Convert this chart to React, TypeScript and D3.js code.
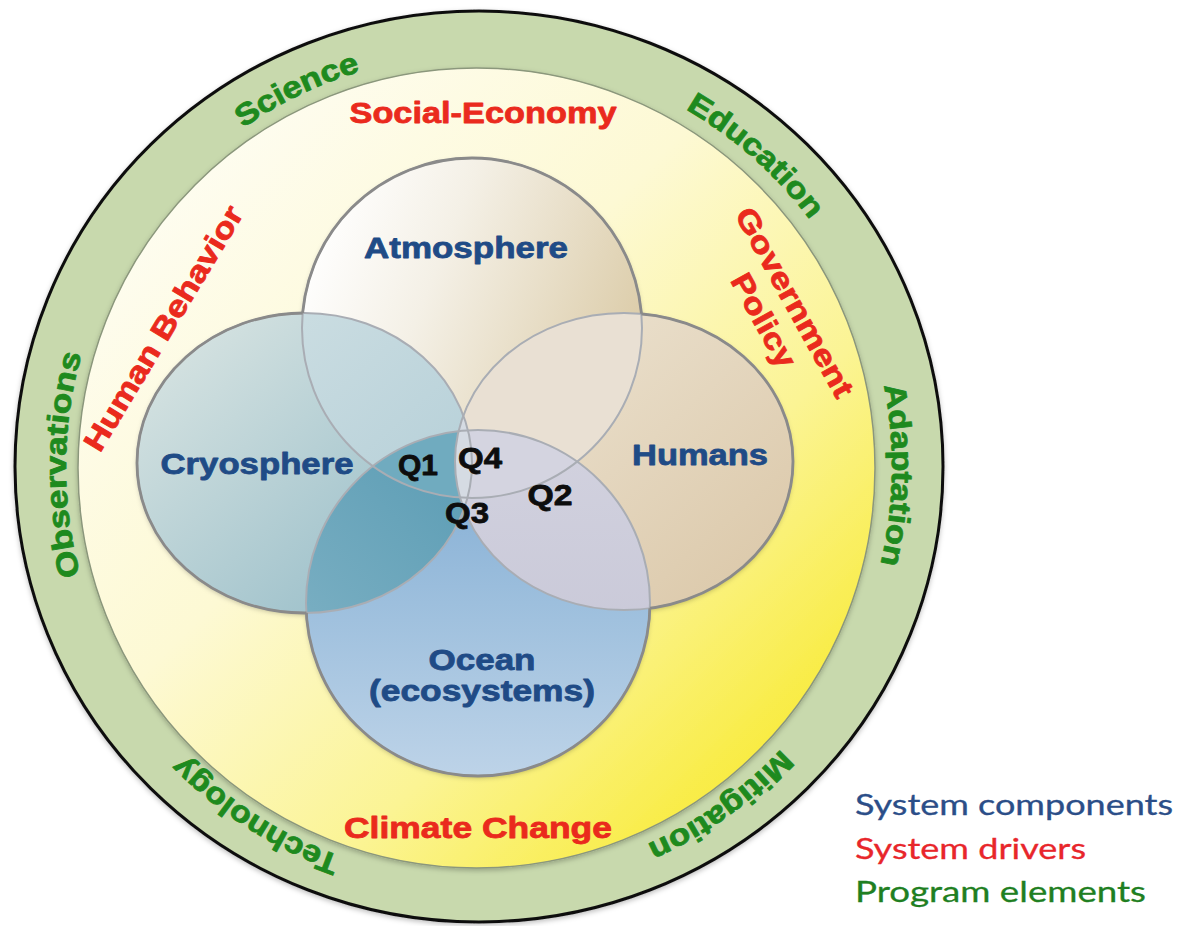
import React, { useRef, useEffect } from "react";
import * as d3 from "d3";

// names shown in the diagram
const components = ["Atmosphere", "Cryosphere", "Humans", "Ocean"];
const oceanSubtitle = "(ecosystems)";
const drivers = ["Social-Economy", "Government", "Policy", "Human Behavior", "Climate Change"];
const programElements = ["Science", "Education", "Adaptation", "Mitigation", "Technology", "Observations"];
const questions = ["Q1", "Q2", "Q3", "Q4"];
const legendLabels = ["System components", "System drivers", "Program elements"];
const legendGroups = ["components", "drivers", "program"];

// layout
const W = 1188;
const H = 926;
const outer = { cx: 479, cy: 466.5, rx: 464, ry: 455.5 };
const inner = { cx: 476.5, cy: 468, rx: 398.5, ry: 400 };
const ringText = { cx: 479, cy: 467, r: 413 };

const circleGeo = {
  Atmosphere: { cx: 472, cy: 328, rx: 170, ry: 170 },
  Cryosphere: { cx: 304.5, cy: 463, rx: 167.5, ry: 150 },
  Humans: { cx: 624, cy: 461.5, rx: 169, ry: 148.5 },
  Ocean: { cx: 478, cy: 603, rx: 172, ry: 173 },
};

const componentPos = {
  Atmosphere: { x: 466, y: 258, w: 204 },
  Cryosphere: { x: 257, y: 474, w: 193 },
  Humans: { x: 700, y: 465, w: 136 },
  Ocean: { x: 482, y: 670, w: 107 },
};
const subtitlePos = { x: 482, y: 701, w: 226 };

const questionPos = {
  Q1: { x: 418, y: 475, w: 40 },
  Q2: { x: 550, y: 505, w: 45 },
  Q3: { x: 467, y: 523, w: 44 },
  Q4: { x: 480, y: 468, w: 44 },
};

// centre of the cap box, rotation, length
const driverPos = {
  "Social-Economy": { x: 483, y: 112.5, a: 0, w: 267 },
  Government: { x: 795, y: 302, a: 61, w: 212 },
  Policy: { x: 764, y: 320, a: 61, w: 103 },
  "Human Behavior": { x: 163, y: 328, a: -59, w: 280 },
  "Climate Change": { x: 478, y: 827, a: 0, w: 268 },
};

// angle on the ring (deg, clockwise from 3 o'clock), length
const ringPos = {
  Science: { a: -115.8, w: 131 },
  Education: { a: -48.4, w: 168 },
  Adaptation: { a: 1.1, w: 180 },
  Mitigation: { a: 54.5, w: 166 },
  Technology: { a: 122.6, w: 188 },
  Observations: { a: 180.3, w: 224 },
};

const legendPos = { x: 855, ys: [815, 859, 902], ws: [318, 231, 291] };

const BOLD = "'Liberation Sans', Arial, sans-serif";
const FS = 30;

const App = () => {
  const svgRef = useRef(null);

  useEffect(() => {
    const svg = d3.select(svgRef.current);
    svg.selectAll("*").remove();

    const color = d3
      .scaleOrdinal()
      .domain(legendGroups)
      .range(["#1f4b86", "#ea2a1d", "#1e8a1e"]);
    const legendColor = d3
      .scaleOrdinal()
      .domain(legendGroups)
      .range(["#2b4e88", "#e8262b", "#1f7f22"]);

    const defs = svg.append("defs");
    const grad = (id, x1, y1, x2, y2, stops) => {
      const g = defs
        .append("linearGradient")
        .attr("id", id)
        .attr("x1", x1)
        .attr("y1", y1)
        .attr("x2", x2)
        .attr("y2", y2);
      stops.forEach(([o, c]) => g.append("stop").attr("offset", o).attr("stop-color", c));
    };

    grad("diskGrad", 0.1, 0.1, 0.9, 0.9, [
      [0, "#fefdf3"],
      [0.4, "#fdf9d4"],
      [0.7, "#fbf494"],
      [1, "#f8ea30"],
    ]);
    grad("atmGrad", 0, 0.3, 1, 0.7, [
      [0, "#ffffff"],
      [0.35, "#f4f0e6"],
      [1, "#d9c8a2"],
    ]);
    grad("cryoGrad", 0, 0, 1, 1, [
      [0, "#dde7e4"],
      [1, "#8fb8c5"],
    ]);
    grad("humGrad", 0, 0, 1, 1, [
      [0, "#eee6d6"],
      [1, "#dac6a6"],
    ]);
    grad("oceanGrad", 0, 0, 0, 1, [
      [0, "#7eaad2"],
      [0.5, "#9dbfdd"],
      [1, "#bdd3e8"],
    ]);
    grad("cryoAtmGrad", 0, 0, 1, 1, [
      [0, "#d3e2e5"],
      [1, "#aecbd5"],
    ]);
    grad("cryoOceanGrad", 1, 0, 0, 1, [
      [0, "#4a92ac"],
      [1, "#86b6c8"],
    ]);
    grad("humOceanGrad", 0, 0, 0, 1, [
      [0, "#d2d2df"],
      [1, "#c4c3d4"],
    ]);

    const shadow = defs.append("filter").attr("id", "soft").attr("x", -0.1).attr("y", -0.1).attr("width", 1.2).attr("height", 1.2);
    shadow
      .append("feDropShadow")
      .attr("dx", 0)
      .attr("dy", 2)
      .attr("stdDeviation", 2.5)
      .attr("flood-color", "#000")
      .attr("flood-opacity", 0.25);

    const keys = components;
    keys.forEach((k) => {
      const c = circleGeo[k];
      defs
        .append("clipPath")
        .attr("id", `clip-${k}`)
        .append("ellipse")
        .attr("cx", c.cx)
        .attr("cy", c.cy)
        .attr("rx", c.rx)
        .attr("ry", c.ry);
      const m = defs
        .append("mask")
        .attr("id", `mask-${k}`)
        .attr("maskUnits", "userSpaceOnUse")
        .attr("x", 0)
        .attr("y", 0)
        .attr("width", W)
        .attr("height", H);
      m.append("rect").attr("width", W).attr("height", H).attr("fill", "#fff");
      keys
        .filter((o) => o !== k)
        .forEach((o) => {
          const oc = circleGeo[o];
          m.append("ellipse")
            .attr("cx", oc.cx)
            .attr("cy", oc.cy)
            .attr("rx", oc.rx)
            .attr("ry", oc.ry)
            .attr("fill", "#000");
        });
    });

    // outer green ring + yellow disk
    svg
      .append("ellipse")
      .attr("cx", outer.cx)
      .attr("cy", outer.cy)
      .attr("rx", outer.rx)
      .attr("ry", outer.ry)
      .attr("fill", "#c8d9ad")
      .attr("stroke", "#111")
      .attr("stroke-width", 3)
      .attr("filter", "url(#soft)");
    svg
      .append("ellipse")
      .attr("cx", inner.cx)
      .attr("cy", inner.cy)
      .attr("rx", inner.rx)
      .attr("ry", inner.ry)
      .attr("fill", "url(#diskGrad)")
      .attr("stroke", "#8b977c")
      .attr("stroke-width", 1.5)
      .attr("filter", "url(#soft)");

    // venn circles
    const venn = svg.append("g");
    const base = { Atmosphere: "url(#atmGrad)", Cryosphere: "url(#cryoGrad)", Humans: "url(#humGrad)", Ocean: "url(#oceanGrad)" };
    const ell = (g, k) => {
      const c = circleGeo[k];
      return g.append("ellipse").attr("cx", c.cx).attr("cy", c.cy).attr("rx", c.rx).attr("ry", c.ry);
    };
    const shadowG = venn.append("g").attr("filter", "url(#soft)");
    keys.forEach((k) => ell(shadowG, k).attr("fill", base[k]));

    const overlap = (set, fill) => {
      let g = venn;
      set.slice(0, -1).forEach((k) => {
        g = g.append("g").attr("clip-path", `url(#clip-${k})`);
      });
      ell(g, set[set.length - 1]).attr("fill", fill);
    };
    overlap(["Atmosphere", "Ocean"], "#cbd8e3");
    overlap(["Atmosphere", "Cryosphere"], "url(#cryoAtmGrad)");
    overlap(["Atmosphere", "Humans"], "#e9e0d3");
    overlap(["Cryosphere", "Ocean"], "url(#cryoOceanGrad)");
    overlap(["Atmosphere", "Cryosphere", "Ocean"], "#70abbf");
    overlap(["Humans", "Ocean"], "url(#humOceanGrad)");
    overlap(["Atmosphere", "Humans", "Ocean"], "#d4d4e0");
    overlap(["Cryosphere", "Humans"], "#d5dbe3");

    // outlines: light everywhere, darker on the outside of the union
    keys.forEach((k) => ell(venn, k).attr("fill", "none").attr("stroke", "#a9adb4").attr("stroke-width", 2));
    keys.forEach((k) =>
      ell(venn, k)
        .attr("fill", "none")
        .attr("stroke", "#8a8a8a")
        .attr("stroke-width", 2.8)
        .attr("mask", `url(#mask-${k})`)
    );

    const straight = (g, text, x, y, w, fill) =>
      g
        .append("text")
        .attr("x", x - w / 2)
        .attr("y", y)
        .attr("textLength", w)
        .attr("lengthAdjust", "spacingAndGlyphs")
        .attr("font-family", BOLD)
        .attr("font-weight", "bold")
        .attr("font-size", FS)
        .attr("fill", fill)
        .attr("stroke", fill)
        .attr("stroke-width", 0.8)
        .attr("stroke-linejoin", "round")
        .text(text);

    const labels = svg.append("g");

    // components
    components.forEach((k) => {
      const p = componentPos[k];
      straight(labels, k, p.x, p.y, p.w, color("components"));
    });
    straight(labels, oceanSubtitle, subtitlePos.x, subtitlePos.y, subtitlePos.w, color("components"));

    // questions
    questions.forEach((q) => {
      const p = questionPos[q];
      straight(labels, q, p.x, p.y, p.w, "#0d0d0d");
    });

    // drivers
    const capHalf = (FS * 0.716) / 2;
    drivers.forEach((d) => {
      const p = driverPos[d];
      const g = labels.append("g").attr("transform", `translate(${p.x},${p.y}) rotate(${p.a})`);
      straight(g, d, 0, capHalf, p.w, color("drivers"));
    });

    // program elements on the ring
    programElements.forEach((name, i) => {
      const p = ringPos[name];
      const a0 = ((p.a - 90) * Math.PI) / 180;
      const a1 = ((p.a + 90) * Math.PI) / 180;
      const path = d3.path();
      path.arc(ringText.cx, ringText.cy, ringText.r, a0, a1, false);
      defs.append("path").attr("id", `ring-${i}`).attr("d", path.toString());
      labels
        .append("text")
        .attr("font-family", BOLD)
        .attr("font-weight", "bold")
        .attr("font-size", FS)
        .attr("fill", color("program"))
        .attr("stroke", color("program"))
        .attr("stroke-width", 0.8)
        .attr("stroke-linejoin", "round")
        .append("textPath")
        .attr("href", `#ring-${i}`)
        .attr("startOffset", (ringText.r * Math.PI) / 2 - p.w / 2)
        .attr("textLength", p.w)
        .attr("lengthAdjust", "spacingAndGlyphs")
        .text(name);
    });

    // legend
    legendLabels.forEach((t, i) => {
      const c = legendColor(legendGroups[i]);
      labels
        .append("text")
        .attr("x", legendPos.x)
        .attr("y", legendPos.ys[i])
        .attr("textLength", legendPos.ws[i])
        .attr("lengthAdjust", "spacingAndGlyphs")
        .attr("font-family", "Lato, 'Open Sans', sans-serif")
        .attr("font-size", 28)
        .attr("fill", c)
        .attr("stroke", c)
        .attr("stroke-width", 0.3)
        .text(t);
    });
  }, []);

  return (
    <svg
      ref={svgRef}
      width={W}
      height={H}
      style={{ position: "absolute", left: 0, top: 0, background: "#fff" }}
    ></svg>
  );
};

export default App;
